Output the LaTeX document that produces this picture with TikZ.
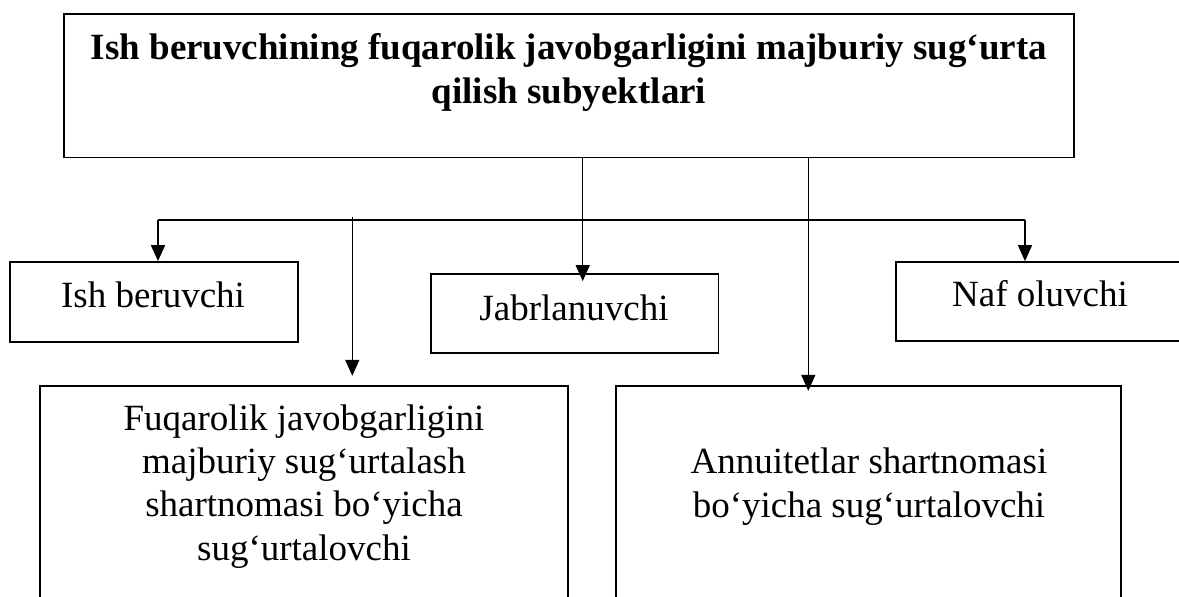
\documentclass[tikz,border=0pt]{standalone}
\usepackage{fontspec}
\setmainfont{Liberation Serif}
\usetikzlibrary{arrows.meta,calc}
\begin{document}
\begin{tikzpicture}[x=1pt,y=-1pt,
  box/.style={draw,line width=1.7pt,inner sep=0pt,rectangle},
  txt/.style={inner sep=0pt,align=center,anchor=base,font=\fontsize{37}{43.3}\selectfont},
  btxt/.style={txt,font=\fontsize{37}{43.3}\selectfont\bfseries},
  conn/.style={line width=1.5pt},
  arr/.style={conn,-{Triangle[width=14pt,length=16pt]}}]
\useasboundingbox (0,0) rectangle (1179,597);
\clip (0,0) rectangle (1179,597);
% boxes
\node[box,minimum width=1010pt,minimum height=143.5pt] (top) at (569,85.75) {};
\node[box,minimum width=288pt,minimum height=80pt] (ish) at (154,302) {};
\node[box,minimum width=287.5pt,minimum height=79pt] (jab) at (574.75,313.5) {};
\node[box,minimum width=300pt,minimum height=79pt] (naf) at (1046,301.5) {};
\node[box,minimum width=528pt,minimum height=260pt] (fuq) at (304,516) {};
\node[box,minimum width=505pt,minimum height=260pt] (ann) at (868.5,516) {};
% texts (anchor=base is the baseline of the last line)
\node[btxt] (topt) at (569,103) {Ish beruvchining fuqarolik javobgarligini majburiy sug‘urta\\qilish subyektlari};
\node[txt] (isht) at (153,307) {Ish beruvchi};
\node[txt] (jabt) at (574,320) {Jabrlanuvchi};
\node[txt] (naft) at (1040,306) {Naf oluvchi};
\node[txt] (fuqt) at (304,560) {Fuqarolik javobgarligini\\majburiy sug‘urtalash\\shartnomasi bo‘yicha\\sug‘urtalovchi};
\node[txt] (annt) at (869,517) {Annuitetlar shartnomasi\\bo‘yicha sug‘urtalovchi};
% connectors
\coordinate (busL) at (158,220);
\coordinate (busR) at (1025,220);
\coordinate (midtop) at (352.3,216.7);
\draw[conn] (busL) -- (busR);
\draw[arr] (busL) -- (busL |- ish.north);
\draw[arr] (busR) -- (busR |- naf.north);
\draw[arr,shorten >=9.3pt] (midtop) -- (midtop |- fuq.north);
\draw[arr,shorten >=-8pt] ([xshift=13.7pt]top.south) -- ([xshift=13.7pt]top.south |- jab.north);
\draw[arr,shorten >=-5.7pt] ([xshift=239.3pt]top.south) -- ([xshift=239.3pt]top.south |- ann.north);
\end{tikzpicture}
\end{document}
